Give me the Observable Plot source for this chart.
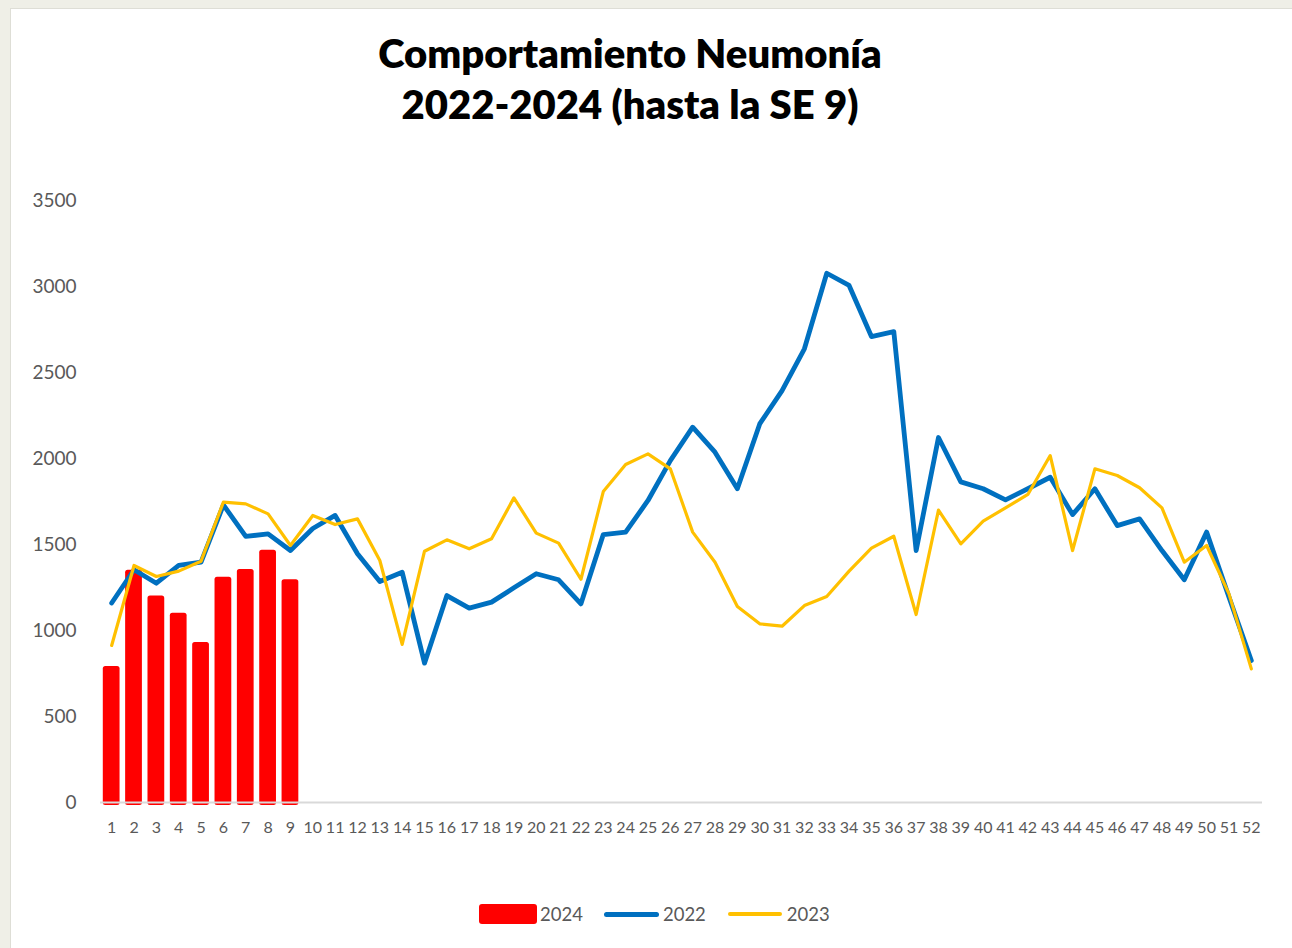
<!DOCTYPE html>
<html>
<head>
<meta charset="utf-8">
<script src="https://cdn.jsdelivr.net/npm/d3@7"></script>
<script src="https://cdn.jsdelivr.net/npm/@observablehq/plot@0.6"></script>
<style>
  html, body { margin: 0; padding: 0; }
  body { width: 1292px; height: 948px; background: #efefe7; position: relative; overflow: hidden; font-family: Lato, "Open Sans", sans-serif; }
  #frame { position: absolute; left: 10px; top: 8px; width: 1282px; height: 940px; background: #ffffff; border-left: 1px solid #deded6; border-top: 1px solid #deded6; box-sizing: border-box; }
  #title { position: absolute; left: 0; top: 28px; width: 1260px; text-align: center; font-weight: 800; font-size: 40px; line-height: 51px; color: #000; }
  #chart { position: absolute; left: 0; top: 180px; }
  #legend { position: absolute; top: 903px; left: 479px; display: flex; align-items: center; font-size: 18.5px; color: #595959; }
  .sw { display: inline-block; }
</style>
</head>
<body>
<div id="frame"></div>
<div id="title">Comportamiento Neumonía<br>2022-2024 (hasta la SE 9)</div>
<div id="chart"></div>
<div id="legend">
  <span class="sw" style="width:58px;height:20px;background:#ff0000;border-radius:3px;"></span><span style="margin-left:3px;margin-right:21px;">2024</span>
  <span class="sw" style="width:55px;height:5px;background:#0070c0;border-radius:3px;"></span><span style="margin-left:4px;margin-right:22px;">2022</span>
  <span class="sw" style="width:54px;height:3.5px;background:#ffc000;border-radius:2px;"></span><span style="margin-left:5px;">2023</span>
</div>
<script>
const weeks = d3.range(1, 53);
const s2024 = [790, 1350, 1200, 1100, 930, 1310, 1355, 1467, 1295];
const s2022 = [1160, 1353, 1275, 1378, 1397, 1730, 1547, 1562, 1465, 1593,
               1669, 1446, 1285, 1339, 810, 1203, 1130, 1165, 1248, 1330,
               1295, 1155, 1558, 1572, 1756, 1988, 2182, 2037, 1824, 2201,
               2395, 2638, 3077, 3006, 2709, 2738, 1465, 2122, 1864, 1824,
               1760, 1824, 1891, 1674, 1824, 1610, 1649, 1465, 1295, 1572,
               1194, 826];
const s2023 = [913, 1378, 1314, 1345, 1403, 1746, 1736, 1678, 1494, 1669,
               1616, 1649, 1407, 919, 1461, 1527, 1475, 1533, 1771, 1566,
               1508, 1298, 1808, 1965, 2027, 1940, 1572, 1397, 1140, 1039,
               1025, 1145, 1198, 1345, 1479, 1548, 1093, 1700, 1504, 1636,
               1713, 1791, 2017, 1465, 1940, 1901, 1830, 1713, 1397, 1494,
               1213, 777];
const yTicks = [0, 500, 1000, 1500, 2000, 2500, 3000, 3500];

const bars = s2024.map((v, i) => ({week: weeks[i], value: v}));
const l2022 = s2022.map((v, i) => ({week: weeks[i], value: v}));
const l2023 = s2023.map((v, i) => ({week: weeks[i], value: v}));

const chart = Plot.plot({
  width: 1292,
  height: 660,
  marginTop: 20,
  marginBottom: 38,
  marginLeft: 100,
  marginRight: 30,
  style: {fontFamily: "Lato, 'Open Sans', sans-serif", color: "#595959", background: "transparent", overflow: "visible"},
  x: {type: "band", domain: weeks, paddingInner: 0.25, paddingOuter: 0.125, round: false, label: null},
  y: {domain: [0, 3500], label: null},
  marks: [
    Plot.barY(bars, {x: "week", y: "value", fill: "#ff0000", rx: 2.5, insetBottom: -3}),
    Plot.ruleY([0], {stroke: "#d9d9d9", strokeWidth: 2}),
    Plot.lineY(l2022, {x: "week", y: "value", stroke: "#0070c0", strokeWidth: 4.8, strokeLinejoin: "round", strokeLinecap: "round"}),
    Plot.lineY(l2023, {x: "week", y: "value", stroke: "#ffc000", strokeWidth: 3.2, strokeLinejoin: "round", strokeLinecap: "round"}),
    Plot.axisY({ticks: yTicks, tickFormat: d => String(d), tickSize: 0, tickPadding: 24, fontSize: 19, fill: "#595959", label: null}),
    Plot.axisX({tickSize: 0, tickPadding: 19, fontSize: 16, fill: "#595959", label: null})
  ]
});
document.getElementById("chart").appendChild(chart);
</script>
</body>
</html>
